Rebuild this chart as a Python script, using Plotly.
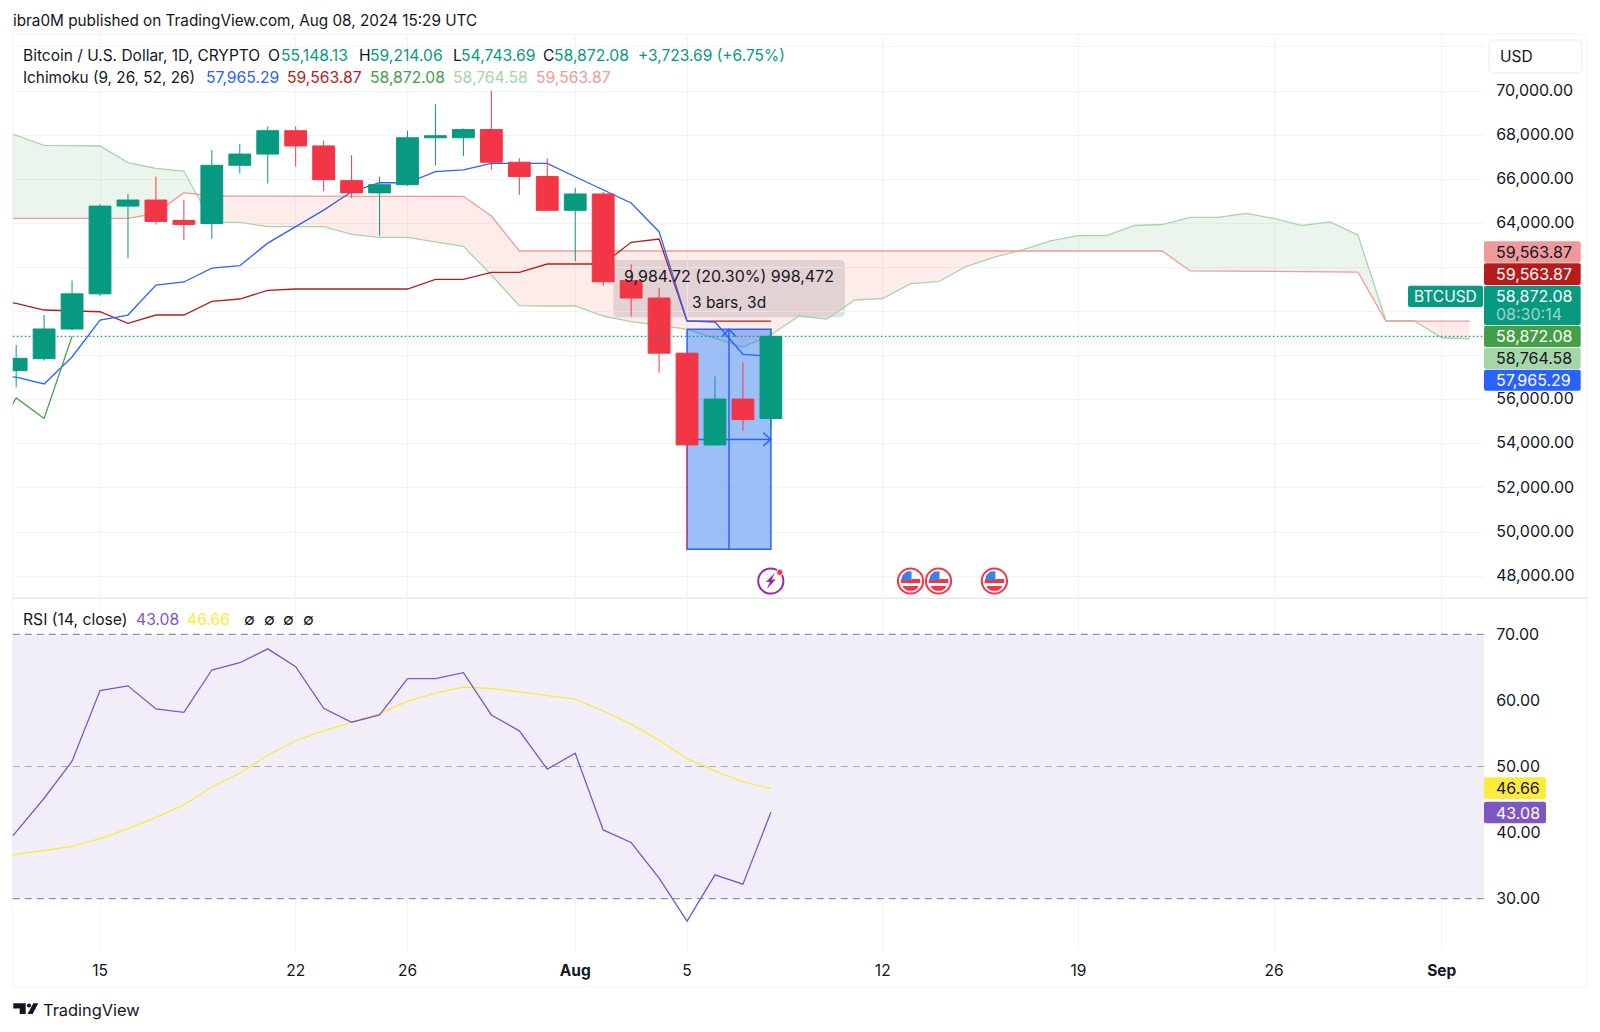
import numpy as np
import pandas as pd
import plotly.graph_objects as go

W, H = 1600, 1032
FONT = "Inter"

# ---------- data ----------
candle_dates = pd.date_range("2024-07-12", "2024-08-08").strftime("%Y-%m-%d").tolist()
opens  = [57316,57860,59207,60800,64780,65055,64130,63990,66630,67140,68200,67510,65935,65380,65750,67880,67880,68250,66770,66120,64590,65330,61400,60610,58110,53950,56030,55148.13]
closes = [57878,59207,60800,64780,65055,64085,63945,66630,67140,68200,67510,65980,65380,65750,67880,67970,68250,66770,66120,64590,65330,61350,60610,58110,53950,56030,55100,58872.08]
highs  = [58481,59842,61400,64870,65330,66120,65055,67320,67600,68390,68390,67740,67090,66120,68200,69400,68300,70010,66950,66950,65610,65420,62140,61070,58110,57050,57700,59214.06]
lows   = [56563,57769,59150,60700,62415,63945,63250,63300,66260,65800,66580,65470,65150,63430,65700,66630,67050,66440,65290,64550,62280,61170,59780,57230,49170,53900,54590,54743.69]

line_dates = pd.date_range("2024-07-11", "2024-08-08").strftime("%Y-%m-%d").tolist()
tenkan = [57100,57020,56713,57937,59615,59840,61200,61340,61970,62080,63100,63850,64600,65430,65840,65840,66340,66420,66720,66720,66720,66110,65510,64920,63620,59570,59525,58060,57965.29]
kijun  = [60500,60372,60068,60023,59990,59463,59841,59841,60461,60567,60960,61020,61020,61020,61020,61020,61459,61459,61776,61776,62154,62154,62154,63137,63288,59563.87,59563.87,59563.87,59563.87]

chikou_dates = pd.date_range("2024-07-11", "2024-07-14").strftime("%Y-%m-%d").tolist()
chikou = [53950,56080,55148,58872.08]

cloud_dates = pd.date_range("2024-07-11", "2024-09-02").strftime("%Y-%m-%d").tolist()
senkou_a = [68440,68004,67536,67521,67506,66750,66493,66372,64044,64044,63847,63847,63847,63500,63364,63364,63167,62955,61656,60264,60250,60250,59796,59539,59388,
            59193,58798,58390,58935,59796,59660,60522,60590,61260,61355,62050,62470,62790,63206,63438,63438,63900,63945,64270,64270,64450,64220,63900,64060,63470,59583,59583,58810,58764.58]
senkou_b = [64225,64225,64225,64225,64225,64225,64452,65390,65238,65238,65238,65238,65238,65238,65238,65238,65238,65223,64331,62744,62744,62744,62744,62744,62744,
            62744,62744,62744,62744,62744,62744,62744,62744,62744,62744,62744,62744,62744,62744,62744,62744,62744,62744,61840,61830,61820,61820,61810,61800,61790,59563.87,59563.87,59563.87,59563.87]

rsi_dates = line_dates
rsi   = [35.3,40.1,45.2,50.8,61.5,62.2,58.7,58.2,64.6,65.7,67.8,65.1,58.8,56.7,57.8,63.3,63.3,64.2,57.8,55.4,49.6,52.0,40.4,38.5,33.1,26.6,33.6,32.2,43.08]
rsi_ma= [36.1,36.7,37.3,37.9,39.1,40.6,42.3,44.2,46.9,49.0,51.7,53.9,55.4,56.7,58.0,59.9,61.1,62.0,61.8,61.3,60.7,60.2,58.4,56.4,54.0,51.2,49.3,47.7,46.66]

x_ticks = ["2024-07-15","2024-07-22","2024-07-26","2024-08-01","2024-08-05","2024-08-12","2024-08-19","2024-08-26","2024-09-01"]
x_labels = ["15","22","26","<b>Aug</b>","5","12","19","26","<b>Sep</b>"]
price_ticks = [48000,50000,52000,54000,56000,58000,60000,62000,64000,66000,68000,70000,72000]
price_labels = ["48,000.00","50,000.00","52,000.00","54,000.00","56,000.00","","","","64,000.00","66,000.00","68,000.00","70,000.00",""]
rsi_ticks = [30,40,50,60,70]
rsi_labels = ["30.00","40.00","50.00","60.00","70.00"]

measure_dates = ["2024-08-05","2024-08-08"]
measure_mid = "2024-08-06 12:00"
measure_top, measure_bottom = 59200, 49215.28
measure_arrow_y = 54200
event_dates = ["2024-08-13","2024-08-14","2024-08-16"]

# ---------- colours ----------
UP, DOWN = "#089981", "#F23645"
BLUE, DRED, GRN = "#2962FF", "#B71C1C", "#43A047"
LGRN, LRED = "#A5D6A7", "#EF9A9A"
PURPLE, YELLOW = "#7E57C2", "#FFEB3B"
GRID = "#F0F3FA"
TXT = "#131722"

# ---------- pixel layout ----------
L, R, RIGHT = 12.8, 1484, 1587
TOP, SEP, RSIB, BOT = 34, 598.3, 950.7, 986.7
px = lambda v: v / W
py = lambda v: 1 - v / H
X_RANGE = ["2024-07-11 21:07", "2024-09-02 12:15"]
P_RANGE = [46994, 72585]
R_RANGE = [22.13, 75.45]

# ---------- cloud helper: add the crossings of the two spans ----------
t = pd.to_datetime(cloud_dates)
days = np.array((t - t[0]).days, dtype=float)
a, b = np.array(senkou_a, float), np.array(senkou_b, float)
xs, ya, yb = [], [], []
for i in range(len(days)):
    xs.append(days[i]); ya.append(a[i]); yb.append(b[i])
    if i < len(days) - 1 and (a[i] - b[i]) * (a[i + 1] - b[i + 1]) < 0:
        f = (a[i] - b[i]) / ((a[i] - b[i]) - (a[i + 1] - b[i + 1]))
        xs.append(days[i] + f); v = a[i] + f * (a[i + 1] - a[i]); ya.append(v); yb.append(v)
cx = t[0] + pd.to_timedelta(np.array(xs), unit="D")
ya, yb = np.array(ya), np.array(yb)

fig = go.Figure()
invis = dict(mode="lines", line=dict(width=0, color="rgba(0,0,0,0)"), hoverinfo="skip", showlegend=False)
fig.add_trace(go.Scatter(x=cx, y=yb, **invis))
fig.add_trace(go.Scatter(x=cx, y=np.maximum(ya, yb), fill="tonexty", fillcolor="rgba(67,160,71,0.10)", **invis))
fig.add_trace(go.Scatter(x=cx, y=yb, **invis))
fig.add_trace(go.Scatter(x=cx, y=np.minimum(ya, yb), fill="tonexty", fillcolor="rgba(244,67,54,0.10)", **invis))

def line(x, y, color, w=1.3, xa="x", ya_="y"):
    fig.add_trace(go.Scatter(x=x, y=y, mode="lines", line=dict(color=color, width=w), xaxis=xa, yaxis=ya_,
                             hoverinfo="skip", showlegend=False))

line(cloud_dates, senkou_a, LGRN)
line(cloud_dates, senkou_b, LRED)

# measuring tool
m0, m1 = measure_dates
fig.add_trace(go.Scatter(x=[m0, m1, m1, m0, m0],
                         y=[measure_top, measure_top, measure_bottom, measure_bottom, measure_top],
                         mode="lines", fill="toself", fillcolor="rgba(33,110,240,0.44)",
                         line=dict(color=BLUE, width=1.5), hoverinfo="skip", showlegend=False))
line([measure_mid, measure_mid], [measure_bottom, measure_top], BLUE, 1.5)
line([m0, m1], [measure_arrow_y, measure_arrow_y], BLUE, 1.5)
tip = pd.Timestamp(m1)
arm = tip - pd.Timedelta(hours=6.6)
line([arm, tip, arm], [measure_arrow_y + 300, measure_arrow_y, measure_arrow_y - 300], BLUE, 1.5)
mid = pd.Timestamp(measure_mid)
line([mid - pd.Timedelta(hours=5.8), mid, mid + pd.Timedelta(hours=5.8)],
     [measure_top - 330, measure_top, measure_top - 330], BLUE, 1.5)

line(line_dates, kijun, DRED)
line(line_dates, tenkan, BLUE)
line(chikou_dates, chikou, GRN)

# candles live on an overlaying subplot, so they sit on top of the lines
fig.add_trace(go.Candlestick(x=candle_dates, open=opens, high=highs, low=lows, close=closes,
                             xaxis="x3", yaxis="y3", whiskerwidth=0, showlegend=False, hoverinfo="skip",
                             increasing=dict(line=dict(color=UP, width=1), fillcolor=UP),
                             decreasing=dict(line=dict(color=DOWN, width=1), fillcolor=DOWN)))

line(rsi_dates, rsi_ma, "#FDE93B", 1.3, "x2", "y2")
line(rsi_dates, rsi, PURPLE, 1.3, "x2", "y2")

# ---------- shapes ----------
shapes = []
def rbox(x0, y0, x1, y1, fill, r=2, lc=None, lw=0, layer="above"):
    p = (f"M{px(x0+r)},{py(y0)} L{px(x1-r)},{py(y0)} Q{px(x1)},{py(y0)} {px(x1)},{py(y0+r)} "
         f"L{px(x1)},{py(y1-r)} Q{px(x1)},{py(y1)} {px(x1-r)},{py(y1)} "
         f"L{px(x0+r)},{py(y1)} Q{px(x0)},{py(y1)} {px(x0)},{py(y1-r)} "
         f"L{px(x0)},{py(y0+r)} Q{px(x0)},{py(y0)} {px(x0+r)},{py(y0)} Z")
    shapes.append(dict(type="path", xref="paper", yref="paper", path=p, fillcolor=fill, layer=layer,
                       line=dict(color=lc or "rgba(0,0,0,0)", width=lw)))
def hline_px(x0, y, x1, color, w=1):
    shapes.append(dict(type="line", xref="paper", yref="paper", x0=px(x0), x1=px(x1), y0=py(y), y1=py(y),
                       line=dict(color=color, width=w), layer="below"))
def vline_px(x, y0, y1, color, w=1):
    shapes.append(dict(type="line", xref="paper", yref="paper", x0=px(x), x1=px(x), y0=py(y0), y1=py(y1),
                       line=dict(color=color, width=w), layer="below"))
def circ(cx_, cy_, r, fill="rgba(0,0,0,0)", lc="rgba(0,0,0,0)", lw=0):
    shapes.append(dict(type="circle", xref="paper", yref="paper", x0=px(cx_-r), x1=px(cx_+r),
                       y0=py(cy_+r), y1=py(cy_-r), fillcolor=fill, line=dict(color=lc, width=lw)))
def poly(pts, fill):
    p = "M" + " L".join(f"{px(x)},{py(y)}" for x, y in pts) + " Z"
    shapes.append(dict(type="path", xref="paper", yref="paper", path=p, fillcolor=fill, line=dict(width=0)))

# frame
hline_px(L, TOP, RIGHT, GRID)
hline_px(L, BOT, RIGHT, GRID)
vline_px(L, TOP, BOT, GRID)
vline_px(RIGHT, TOP, BOT, GRID)
hline_px(L, SEP, RIGHT, "#E6E6F0", 1.5)

# RSI band and levels
shapes.append(dict(type="rect", xref="x2 domain", yref="y2", x0=0, x1=1, y0=30, y1=70,
                   fillcolor="rgba(126,87,194,0.105)", line=dict(width=0), layer="below"))
for lv, col in [(70, "#787B86"), (50, "rgba(120,123,134,0.6)"), (30, "#787B86")]:
    shapes.append(dict(type="line", xref="x2 domain", yref="y2", x0=0, x1=1, y0=lv, y1=lv,
                       line=dict(color=col, width=1, dash="7px,5px")))

# last-price dotted line
shapes.append(dict(type="line", xref="x domain", yref="y", x0=0, x1=1, y0=closes[-1], y1=closes[-1],
                   line=dict(color=UP, width=1.4, dash="1.5px,2.5px")))

# measure label sits under the lines and candles
rbox(613.3, 260, 845, 317.3, "rgba(120,123,140,0.22)", r=5, layer="below")

# price tags
tags = [(241.3, 262.7, LRED, "59,563.87", TXT),
        (263.3, 285.0, DRED, "59,563.87", "white"),
        (325.7, 347.0, GRN, "58,872.08", "white"),
        (347.7, 369.0, LGRN, "58,764.58", TXT),
        (369.7, 390.7, BLUE, "57,965.29", "white")]
for y0, y1, c, _, _ in tags:
    rbox(R, y0, 1580.7, y1, c, r=2)
rbox(R, 285.7, 1580.7, 325, UP, r=2)
rbox(1408, 285.7, 1483, 307, UP, r=2)
rbox(R, 777.3, 1546, 799, YELLOW, r=2)
rbox(R, 801.7, 1546, 823.3, PURPLE, r=2)
rbox(1489, 40, 1582, 73, "white", r=5, lc="#E9ECF2", lw=1)

# event icons, placed at their date on the axis
axis_days = lambda d: (pd.Timestamp(d) - pd.Timestamp("2024-07-15")).total_seconds() / 86400
date_px = lambda d: 100 + 27.95 * axis_days(d)
ICON_Y = 581
for d in event_dates:
    c = date_px(d)
    circ(c, ICON_Y, 12.6, "white", DOWN, 2)
    poly([(c-8, ICON_Y+5), (c+8, ICON_Y+5), (c+6, ICON_Y+8), (c+3, ICON_Y+9.7), (c-3, ICON_Y+9.7), (c-6, ICON_Y+8)], DOWN)
    poly([(c+1, ICON_Y-2), (c+9.7, ICON_Y-2), (c+9.7, ICON_Y+2), (c-9.7, ICON_Y+2), (c-9.7, ICON_Y-1), (c+1, ICON_Y-1)], DOWN)
    poly([(c-9.4, ICON_Y-1), (c+1, ICON_Y-1), (c+1, ICON_Y-9.8), (c-4, ICON_Y-9.4), (c-8, ICON_Y-6)], "#3B82E6")
bolt_c = date_px("2024-08-08")
circ(bolt_c, ICON_Y, 12.6, "white", "#9C27B0", 2)
poly([(bolt_c+4, ICON_Y-8), (bolt_c-5, ICON_Y+1), (bolt_c-1, ICON_Y+1), (bolt_c-4, ICON_Y+8),
      (bolt_c+5, ICON_Y-1.5), (bolt_c+1, ICON_Y-1.5)], "#9C27B0")
circ(bolt_c + 9, ICON_Y - 8.7, 3.2, DOWN, "white", 1)

# TradingView logo
poly([(13.3, 1003.3), (25.7, 1003.3), (25.7, 1014), (19.7, 1014), (19.7, 1008.6), (13.3, 1008.6)], "#131722")
circ(29, 1005.5, 2.1, "#131722")
poly([(33.3, 1003.3), (38.3, 1003.3), (32.7, 1014), (27.5, 1014)], "#131722")

# ---------- text ----------
ann = []
def txt(x, y, s, color=TXT, size=15.7, anchor="left", **kw):
    off = -3 if anchor == "left" else 0
    ann.append(dict(xref="paper", yref="paper", x=px(x + off), y=py(y), text=s, showarrow=False, xanchor=anchor,
                    yanchor="middle", align=anchor, font=dict(family=FONT, size=size, color=color), **kw))

txt(13.5, 20, "ibra0M published on TradingView.com, Aug 08, 2024 15:29 UTC", size=15.3)
for x, s, c, sz in [(23.5, "Bitcoin / U.S. Dollar, 1D, CRYPTO", TXT, 15.5), (269, "O", TXT, 15.7), (281.6, "55,148.13", UP, 15.7),
                    (360, "H", TXT, 15.7), (371, "59,214.06", UP, 15.7), (453.6, "L", TXT, 15.7), (461.7, "54,743.69", UP, 15.7),
                    (544, "C", TXT, 15.7), (555, "58,872.08", UP, 15.7), (639, "+3,723.69 (+6.75%)", UP, 15.5)]:
    txt(x, 55.5, s, c, size=sz)
for x, s, c, sz in [(23.5, "Ichimoku (9, 26, 52, 26)", TXT, 15.3), (206.6, "57,965.29", BLUE, 15.7), (288, "59,563.87", DRED, 15.7),
                    (371, "58,872.08", GRN, 15.7), (454, "58,764.58", LGRN, 15.7), (537, "59,563.87", LRED, 15.7)]:
    txt(x, 77, s, c, size=sz)
for x, s, c in [(23.5, "RSI (14, close)", TXT), (136.7, "43.08", PURPLE), (187.8, "46.66", "#FDE93B"),
                (245, "∅", TXT), (265, "∅", TXT), (284, "∅", TXT), (304, "∅", TXT)]:
    txt(x, 619, s, c)
txt(729, 276, "9,984.72 (20.30%) 998,472", anchor="center", size=16)
txt(729, 302, "3 bars, 3d", anchor="center", size=15.5)
txt(1501, 56.5, "USD", size=15.5)
for y0, y1, _, s, c in tags:
    txt(1497, (y0 + y1) / 2, s, c, size=16)
txt(1497, 296, "58,872.08", "white", size=16)
txt(1497, 314, "08:30:14", "rgba(255,255,255,0.6)", size=16)
txt(1445.5, 296.3, "BTCUSD", "white", anchor="center", size=15.5)
txt(1497, 788, "46.66", TXT, size=16)
txt(1497, 812.5, "43.08", "white", size=16)
txt(44, 1009.5, "TradingView", "#131722", 16.4)

# ---------- layout ----------
xbase = dict(type="date", range=X_RANGE, tickmode="array", tickvals=x_ticks, zeroline=False,
             showline=False, rangeslider=dict(visible=False))
tickf = dict(family=FONT, size=16, color=TXT)
fig.update_layout(
    width=W, height=H, autosize=False, margin=dict(l=0, r=0, t=0, b=0),
    paper_bgcolor="white", plot_bgcolor="white", showlegend=False, hovermode=False,
    boxgap=0.22, boxgroupgap=0,
    xaxis=dict(**xbase, domain=[px(L), px(R)], anchor="y", ticktext=[""] * len(x_ticks), showgrid=True, gridcolor=GRID,
               gridwidth=1, ticks=""),
    xaxis2=dict(**xbase, domain=[px(L), px(R)], anchor="y2", ticktext=x_labels, showgrid=True, gridcolor=GRID,
                gridwidth=1, ticks="outside", ticklen=6, tickcolor="rgba(0,0,0,0)",
                tickfont=dict(family=FONT, size=15.5, color=TXT)),
    xaxis3=dict(**xbase, domain=[px(L), px(R)], anchor="y3", overlaying="x", showgrid=False, showticklabels=False, ticks=""),
    yaxis=dict(domain=[py(SEP), py(TOP)], range=P_RANGE, anchor="x", side="right", tickmode="array",
               tickvals=price_ticks, ticktext=price_labels, showgrid=True, gridcolor=GRID, gridwidth=1,
               zeroline=False, showline=False, ticks="outside", ticklen=8, tickcolor="rgba(0,0,0,0)",
               ticklabelshift=-1, tickfont=tickf),
    yaxis2=dict(domain=[py(RSIB), py(SEP)], range=R_RANGE, anchor="x2", side="right", tickmode="array",
                tickvals=rsi_ticks, ticktext=rsi_labels, showgrid=True, gridcolor=GRID, gridwidth=1,
                zeroline=False, showline=False, ticks="outside", ticklen=8, tickcolor="rgba(0,0,0,0)",
                tickfont=tickf),
    yaxis3=dict(domain=[py(SEP), py(TOP)], range=P_RANGE, anchor="x3", overlaying="y", side="right",
                showgrid=False, showticklabels=False, zeroline=False, ticks=""),
    shapes=shapes, annotations=ann,
)

fig.write_html("out.html", config=dict(displayModeBar=False, staticPlot=True),
               post_script="document.body.style.margin='0';document.documentElement.style.overflow='hidden';")
